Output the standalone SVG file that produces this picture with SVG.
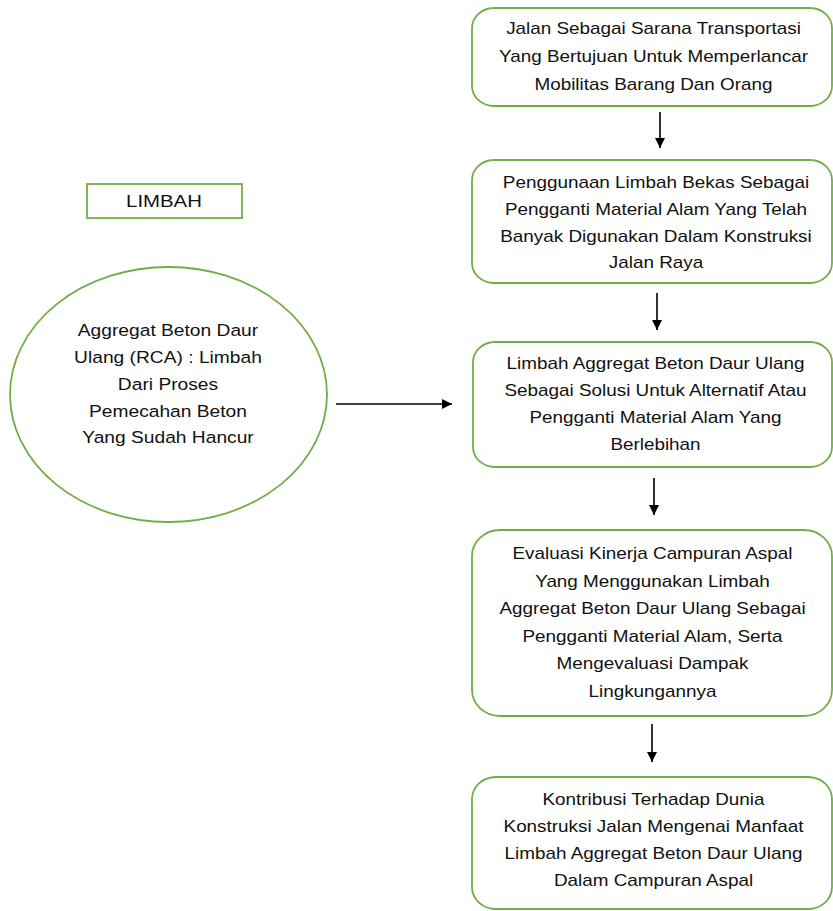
<svg xmlns="http://www.w3.org/2000/svg" width="833" height="911" viewBox="0 0 833 911">
<style>
.box{fill:#fff;stroke:#70AD47;stroke-width:1.8}
.t{font-family:"Liberation Sans",Arial,sans-serif;font-size:16px;fill:#111;text-anchor:middle}
.t17{font-family:"Liberation Sans",Arial,sans-serif;font-size:17px;fill:#111;text-anchor:middle}
.conn{stroke:#000;stroke-width:1.6;fill:none}
</style>
<defs>
<marker id="ah" markerUnits="userSpaceOnUse" markerWidth="12" markerHeight="12" refX="10" refY="5" orient="auto">
<path d="M0,0 L10,5 L0,10 Z" fill="#000"/>
</marker>
</defs>
<rect width="833" height="911" fill="#fff"/>

<g id="limbah">
<rect class="box" x="87" y="184" width="155" height="34"/>
<g transform="matrix(1.2,0,0,1,-32.8,0)"><text class="t17" x="164" y="207">LIMBAH</text></g>
</g>

<g id="rca">
<ellipse class="box" cx="168.5" cy="394.5" rx="158.5" ry="127.5"/>
<g transform="matrix(1.13,0,0,1,-21.84,0)">
<text class="t17" x="168" y="336">Aggregat Beton Daur</text>
<text class="t17" x="168" y="363">Ulang (RCA) : Limbah</text>
<text class="t17" x="168" y="390">Dari Proses</text>
<text class="t17" x="168" y="417">Pemecahan Beton</text>
<text class="t17" x="168" y="443">Yang Sudah Hancur</text>
</g>
</g>

<g id="box1">
<rect class="box" x="472" y="8" width="360" height="98" rx="22" ry="20"/>
<g transform="matrix(1.18,0,0,1,-117.63,0)">
<text class="t" x="653.5" y="34">Jalan Sebagai Sarana Transportasi</text>
<text class="t" x="653.5" y="62">Yang Bertujuan Untuk Memperlancar</text>
<text class="t" x="653.5" y="90">Mobilitas Barang Dan Orang</text>
</g>
</g>

<g id="box2">
<rect class="box" x="472" y="160" width="360" height="123" rx="22" ry="20"/>
<g transform="matrix(1.18,0,0,1,-118.08,0)">
<text class="t" x="656" y="188">Penggunaan Limbah Bekas Sebagai</text>
<text class="t" x="656" y="215">Pengganti Material Alam Yang Telah</text>
<text class="t" x="656" y="242">Banyak Digunakan Dalam Konstruksi</text>
<text class="t" x="656" y="268">Jalan Raya</text>
</g>
</g>

<g id="box3">
<rect class="box" x="473" y="342" width="359" height="125" rx="22" ry="20"/>
<g transform="matrix(1.18,0,0,1,-117.99,0)">
<text class="t" x="655.5" y="369">Limbah Aggregat Beton Daur Ulang</text>
<text class="t" x="655.5" y="396">Sebagai Solusi Untuk Alternatif Atau</text>
<text class="t" x="655.5" y="423">Pengganti Material Alam Yang</text>
<text class="t" x="655.5" y="450">Berlebihan</text>
</g>
</g>

<g id="box4">
<rect class="box" x="472" y="530" width="360" height="186" rx="28" ry="26"/>
<g transform="matrix(1.18,0,0,1,-117.45,0)">
<text class="t" x="652.5" y="559">Evaluasi Kinerja Campuran Aspal</text>
<text class="t" x="652.5" y="587">Yang Menggunakan Limbah</text>
<text class="t" x="652.5" y="614">Aggregat Beton Daur Ulang Sebagai</text>
<text class="t" x="652.5" y="642">Pengganti Material Alam, Serta</text>
<text class="t" x="652.5" y="669">Mengevaluasi Dampak</text>
<text class="t" x="652.5" y="697">Lingkungannya</text>
</g>
</g>

<g id="box5">
<rect class="box" x="472" y="777" width="360" height="132" rx="24" ry="22"/>
<g transform="matrix(1.18,0,0,1,-117.63,0)">
<text class="t" x="653.5" y="805">Kontribusi Terhadap Dunia</text>
<text class="t" x="653.5" y="832">Konstruksi Jalan Mengenai Manfaat</text>
<text class="t" x="653.5" y="859">Limbah Aggregat Beton Daur Ulang</text>
<text class="t" x="653.5" y="886">Dalam Campuran Aspal</text>
</g>
</g>

<g id="connectors">
<line class="conn" x1="660" y1="112" x2="660" y2="148" marker-end="url(#ah)"/>
<line class="conn" x1="657" y1="293" x2="657" y2="330" marker-end="url(#ah)"/>
<line class="conn" x1="654" y1="478" x2="654" y2="515" marker-end="url(#ah)"/>
<line class="conn" x1="652" y1="724" x2="652" y2="762" marker-end="url(#ah)"/>
<line class="conn" x1="336" y1="404" x2="452" y2="404" marker-end="url(#ah)"/>
</g>
</svg>
